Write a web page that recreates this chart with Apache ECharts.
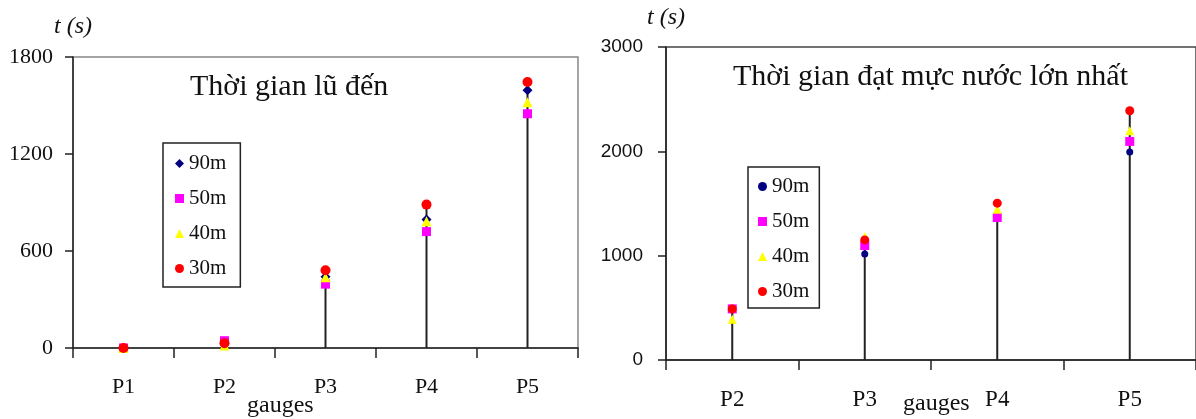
<!DOCTYPE html>
<html>
<head>
<meta charset="utf-8">
<script src="https://cdn.jsdelivr.net/npm/echarts@6/dist/echarts.min.js"></script>
<style>
  html, body { margin: 0; padding: 0; background: #fff; }
  #chart { width: 1196px; height: 419px; }
</style>
</head>
<body>
<div id="chart"></div>
<script>
// thời gian lũ đến (trái)
const leftCategories = ['P1', 'P2', 'P3', 'P4', 'P5'];
const left90 = [0, 30, 440, 795, 1595];
const left50 = [0, 45, 395, 720, 1449];
const left40 = [0, 15, 438, 784, 1520];
const left30 = [0, 30, 481, 887, 1645];
const leftTicks = [0, 600, 1200, 1800];

// thời gian đạt mực nước lớn nhất (phải)
const rightCategories = ['P2', 'P3', 'P4', 'P5'];
const right90 = [480, 1017, 1380, 1993];
const right50 = [490, 1097, 1366, 2095];
const right40 = [390, 1183, 1446, 2197];
const right30 = [490, 1151, 1503, 2389];
const rightTicks = [0, 1000, 2000, 3000];

const seriesNames = ['90m', '50m', '40m', '30m'];
const colors = ['#000080', '#ff00ff', '#ffff00', '#ff0000'];
const SERIF = "'Liberation Serif', 'DejaVu Serif', serif";
const SANS = "'Liberation Sans', Arial, sans-serif";

// cây đứng: từ 0 tới giá trị lớn nhất
function stemData(groups) {
  return groups[0].map((_, i) => Math.max(...groups.map(g => g[i])));
}

function yAxisCfg(ticks, gridIndex, label, nameGap) {
  return {
    type: 'value',
    gridIndex,
    min: ticks[0],
    max: ticks[ticks.length - 1],
    interval: ticks[1] - ticks[0],
    name: 't (s)',
    nameLocation: 'end',
    nameGap,
    nameTextStyle: {
      fontFamily: SERIF,
      fontStyle: 'italic',
      fontSize: 24,
      color: '#111',
      align: 'center'
    },
    axisLine: { show: true, lineStyle: { color: '#222', width: 1.5 } },
    axisTick: { show: true, length: 8, lineStyle: { color: '#222', width: 1.5 } },
    axisLabel: Object.assign({ color: '#111', formatter: v => String(v) }, label),
    splitLine: { show: false }
  };
}

function xAxisCfg(categories, gridIndex, fontSize) {
  return {
    type: 'category',
    gridIndex,
    data: categories,
    boundaryGap: true,
    axisLine: { show: true, lineStyle: { color: '#222', width: 1.5 } },
    axisTick: { show: true, length: 10, lineStyle: { color: '#222', width: 1.5 } },
    axisLabel: { fontFamily: SERIF, fontSize, color: '#111', margin: 28 }
  };
}

function scatterSeries(groups, idx, symbols, sizes) {
  const list = groups.map((data, i) => ({
    name: seriesNames[i],
    type: 'scatter',
    xAxisIndex: idx,
    yAxisIndex: idx,
    data,
    symbol: symbols[i],
    symbolSize: sizes[i],
    itemStyle: { color: colors[i], opacity: 1 },
    z: 3 + i
  }));
  list.unshift({
    type: 'bar',
    xAxisIndex: idx,
    yAxisIndex: idx,
    data: stemData(groups),
    barWidth: 2,
    itemStyle: { color: '#222' },
    silent: true,
    z: 2
  });
  return list;
}

function legendCfg(pos, icons) {
  return Object.assign({
    orient: 'vertical',
    data: seriesNames.map((n, i) => ({ name: n, icon: icons[i] })),
    itemWidth: 9,
    itemHeight: 9,
    itemGap: 14,
    itemTextGap: 12,
    borderColor: '#222',
    borderWidth: 1.5,
    borderRadius: 0,
    backgroundColor: '#fff',
    textStyle: { fontFamily: SERIF, fontSize: 21, color: '#111' },
    selectedMode: false
  }, pos);
}

const chart = echarts.init(document.getElementById('chart'));

const titleStyle = size => ({ fontFamily: SERIF, fontSize: size, fontWeight: 'normal', color: '#111' });

const option = {
  animation: false,
  backgroundColor: '#fff',
  title: [
    { text: 'Thời gian lũ đến', left: 185, top: 67, textStyle: titleStyle(30) },
    { text: 'Thời gian đạt mực nước lớn nhất', left: 728, top: 57, textStyle: titleStyle(30) },
    { text: 'gauges', left: 242, top: 389, textStyle: titleStyle(24) },
    { text: 'gauges', left: 898, top: 387, textStyle: titleStyle(24) }
  ],
  grid: [
    { left: 73, right: 618, top: 57, bottom: 71, show: true, borderColor: '#888', borderWidth: 1.5 },
    { left: 666, right: -4, top: 47, bottom: 59, show: true, borderColor: '#444', borderWidth: 1.5 }
  ],
  legend: [
    legendCfg({ left: 163, top: 143, padding: [10, 14, 8, 12] },
      ['diamond', 'rect', 'triangle', 'circle']),
    legendCfg({ left: 748, top: 167, padding: [9, 10, 6, 10] },
      ['circle', 'rect', 'triangle', 'circle'])
  ],
  xAxis: [xAxisCfg(leftCategories, 0, 22), xAxisCfg(rightCategories, 1, 23)],
  yAxis: [
    yAxisCfg(leftTicks, 0, { fontFamily: SERIF, fontSize: 22, margin: 20 }, 18),
    yAxisCfg(rightTicks, 1, { fontFamily: SANS, fontSize: 19, margin: 23 }, 17)
  ],
  series: [
    ...scatterSeries([left90, left50, left40, left30], 0,
      ['diamond', 'rect', 'triangle', 'circle'], [10, 9, 10, 10]),
    ...scatterSeries([right90, right50, right40, right30], 1,
      ['circle', 'rect', 'triangle', 'circle'], [7, 9, 9, 9])
  ]
};

chart.setOption(option);
</script>
</body>
</html>
